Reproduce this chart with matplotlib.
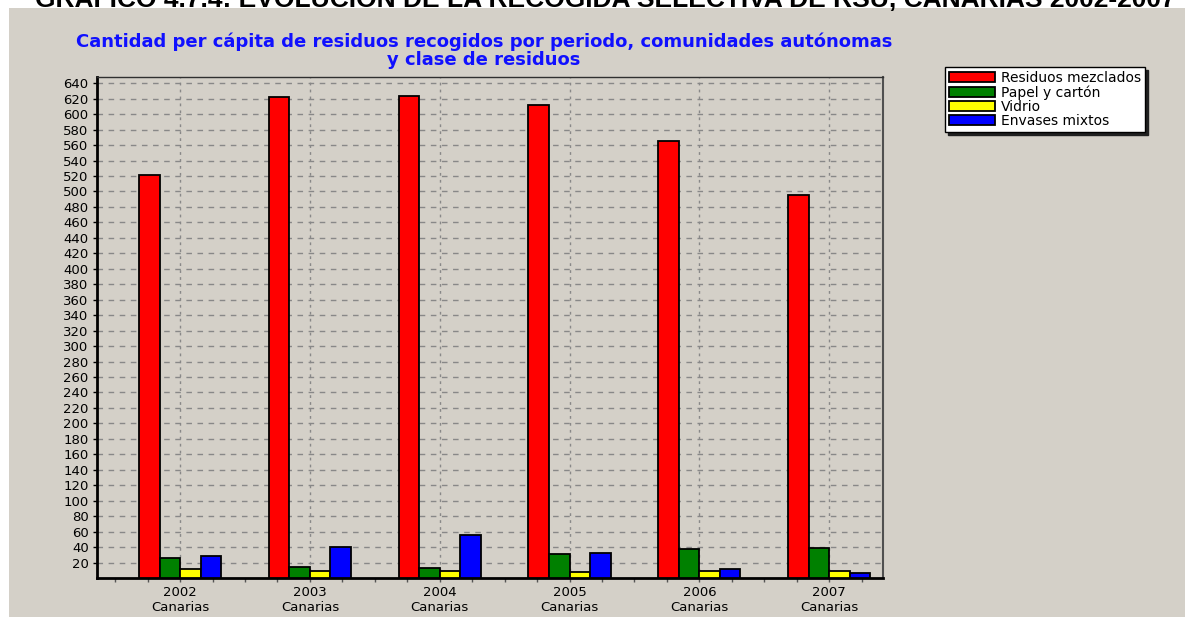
import matplotlib.pyplot as plt
import numpy as np
from matplotlib.patches import Rectangle

# Datos: kg por habitante y año, Canarias
periodos = ["2002", "2003", "2004", "2005", "2006", "2007"]
region = "Canarias"
mezclados = [521, 622, 623, 612, 565, 496]
papel = [26, 14, 13, 31, 38, 39]
vidrio = [12, 9, 9, 8, 9, 9]
envases = [29, 40, 56, 32, 12, 7]

series = [
    ("Residuos mezclados", mezclados, "#ff0000"),
    ("Papel y cartón", papel, "#008000"),
    ("Vidrio", vidrio, "#ffff00"),
    ("Envases mixtos", envases, "#0000ff"),
]

gris = "#d4d0c8"
plt.rcParams["font.family"] = ["DejaVu Sans"]

fig = plt.figure(figsize=(11.85, 6.17), dpi=100)
fig.patch.set_facecolor("white")
fig.patches.append(Rectangle((9 / 1185, 0), 1, 609 / 617, transform=fig.transFigure,
                             facecolor=gris, edgecolor="none", zorder=-10))

# titular del informe, cortado por el borde superior
fig.text(605 / 1185, 610 / 617, "GRÁFICO 4.7.4: EVOLUCIÓN DE LA RECOGIDA SELECTIVA DE RSU, CANARIAS 2002-2007",
         ha="center", va="baseline", fontsize=19, weight="bold", color="black",
         family="Liberation Sans")

ax = fig.add_axes([97 / 1185, 39 / 617, 786 / 1185, 501 / 617])
ax.set_facecolor(gris)

x = np.arange(len(periodos))
ancho = 0.158
for i, (nombre, valores, color) in enumerate(series):
    ax.bar(x + (i - 1.5) * ancho, valores, ancho, color=color, edgecolor="black",
           linewidth=1.3, label=nombre, zorder=3)

ax.set_xlim(-0.64, 5.415)
ax.set_ylim(0, 648)
ax.set_yticks(np.arange(20, 641, 20))
ax.set_xticks(x)
ax.set_xticklabels([f"{p}\n{region}" for p in periodos], fontsize=9.5, linespacing=1.2)
ax.set_xticks(np.arange(-0.5, 5.3, 0.25), minor=True)
ax.tick_params(axis="y", labelsize=9.5, length=3, width=1, pad=3)
ax.tick_params(axis="x", which="both", length=3, width=1, pad=3, color="#555555")

ax.grid(axis="y", linestyle=(0, (4, 4)), color="#888888", linewidth=1, zorder=1)
ax.grid(axis="x", linestyle=(0, (2, 3)), color="#888888", linewidth=1, zorder=1)

for lado, c, lw in [("left", "black", 2), ("bottom", "black", 2),
                    ("top", "#303030", 1), ("right", "#505050", 1.5)]:
    ax.spines[lado].set_color(c)
    ax.spines[lado].set_linewidth(lw)

fig.text(484 / 1185, 1 - 51 / 617,
         "Cantidad per cápita de residuos recogidos por periodo, comunidades autónomas\ny clase de residuos",
         ha="center", va="center", multialignment="center", linespacing=1.0,
         fontsize=13, weight="bold", color="#1010ff")

leg = fig.legend(loc="upper left", bbox_to_anchor=(945 / 1185, 1 - 67 / 617),
                 prop={"size": 10},
                 frameon=True, fancybox=False, shadow={"color": "#202020", "alpha": 1},
                 handlelength=3.3, handleheight=0.75,
                 labelspacing=0.0, borderpad=0.3, handletextpad=0.4, borderaxespad=0)
leg.get_frame().set_edgecolor("black")
leg.get_frame().set_linewidth(1)
leg.get_frame().set_facecolor("white")
leg.get_frame().set_alpha(1)

fig.savefig("out.png", dpi=100, facecolor=fig.get_facecolor())
